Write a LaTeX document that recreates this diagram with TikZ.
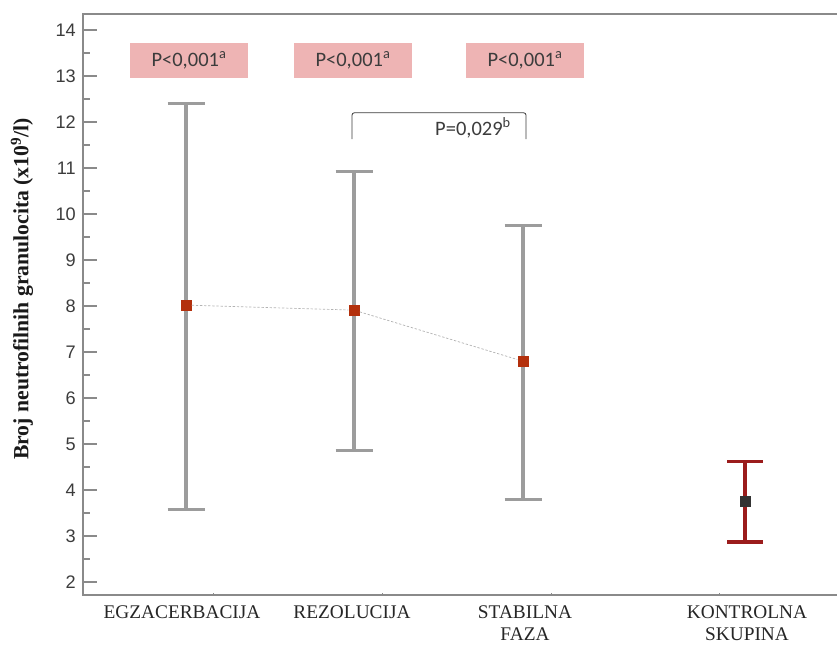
\documentclass[tikz,border=0pt]{standalone}
\usepackage{fontspec}
\setmainfont{Liberation Serif}
\newfontfamily\axisfont{Liberation Sans}
\newfontfamily\pfont{Carlito}
\usepackage{tikz}
\definecolor{axisgray}{HTML}{8A8A8A}
\definecolor{bargray}{HTML}{9C9C9C}
\definecolor{meanred}{HTML}{B3300C}
\definecolor{ctrlred}{HTML}{9B1C1C}
\definecolor{boxpink}{HTML}{EEB4B4}
\definecolor{textgray}{HTML}{3C3C3C}

\begin{document}
\begin{tikzpicture}[x=0.03cm, y=1.38cm,
        axisline/.style={axisgray, line width=1.8pt},
        errbar/.style={bargray, line width=2.6pt},
        meanmark/.style={rectangle, fill=meanred, minimum size=0.33cm, inner sep=0pt},
        pbox/.style={fill=boxpink, minimum width=3.54cm, minimum height=1.05cm, text=textgray, font=\pfont\fontsize{17.5}{20}\selectfont},
        ticklabel/.style={anchor=east, inner sep=0pt, text=textgray, font=\axisfont\fontsize{15.5}{18}\selectfont},
        catlabel/.style={anchor=north, inner sep=0pt, align=center, text=black!85, font=\fontsize{16.5}{19.5}\selectfont}]
        \useasboundingbox (0, 0.652) rectangle (837, 14.652);
        \draw[axisline] (837, 14.35) -- (83, 14.35) -- (83, 1.717) -- (837, 1.717);
        \foreach \v in {2,...,14} {
            \draw[axisline] (83, \v) -- (97, \v);
            \node[ticklabel] (tick\v) at (76, \v) {\v};
        }
        \foreach \v in {2.5,3.5,...,13.5}
            \draw[axisline] (83, \v) -- (90, \v);
        \foreach \x in {213,382,551,719}
            \draw[axisgray, line width=0.8pt] (\x, 1.717) -- (\x, 1.77);

        \foreach \x/\lo/\hi in {186/3.57/12.41, 354/4.85/10.93, 523/3.80/9.74} {
            \draw[errbar] (\x, \lo) -- (\x, \hi);
            \draw[errbar] (\x-18.5, \lo) -- (\x+18.5, \lo);
            \draw[errbar] (\x-18.5, \hi) -- (\x+18.5, \hi);
        }
        \node[meanmark] (egz) at (186, 8.02) {};
        \node[meanmark] (rez) at (354, 7.91) {};
        \node[meanmark] (stab) at (523, 6.80) {};
        \draw[gray!60, line width=0.6pt, dash pattern=on 2pt off 1.5pt] (egz) -- (rez) -- (stab);

        \draw[ctrlred, line width=2.6pt] (745, 2.87) -- (745, 4.63);
        \draw[ctrlred, line width=2.6pt] (727, 2.87) -- (763, 2.87);
        \draw[ctrlred, line width=2.6pt] (727, 4.63) -- (763, 4.63);
        \node[meanmark, fill=black!80] (kontrola) at (745, 3.76) {};

        \node[pbox] (pegz) at (189, 13.34) {P<0,001\textsuperscript{a}};
        \node[pbox] (prez) at (353, 13.34) {P<0,001\textsuperscript{a}};
        \node[pbox] (pstab) at (525, 13.34) {P<0,001\textsuperscript{a}};

        \coordinate (brL) at (352, 11.63);
        \coordinate (brR) at (526, 11.63);
        \draw[textgray, line width=0.7pt, rounded corners=2pt] (brL) -- (352, 12.20) -- (526, 12.20) -- (brR);
        \node[text=textgray, font=\pfont\fontsize{17.5}{20}\selectfont] (prazlika) at (473, 11.87) {P=0,029\textsuperscript{b}};

        \node[rotate=90, text=black!90, font=\bfseries\fontsize{18.5}{21}\selectfont] (ylabel) at (22, 8.37) {Broj neutrofilnih granulocita (x10\textsuperscript{9}/l)};

        \node[catlabel] (egzlab) at (182, 1.50) {EGZACERBACIJA};
        \node[catlabel] (rezlab) at (352, 1.50) {REZOLUCIJA};
        \node[catlabel] (stablab) at (525, 1.50) {STABILNA\\FAZA};
        \node[catlabel] (kontlab) at (747, 1.50) {KONTROLNA\\SKUPINA};
    \end{tikzpicture}
\end{document}
